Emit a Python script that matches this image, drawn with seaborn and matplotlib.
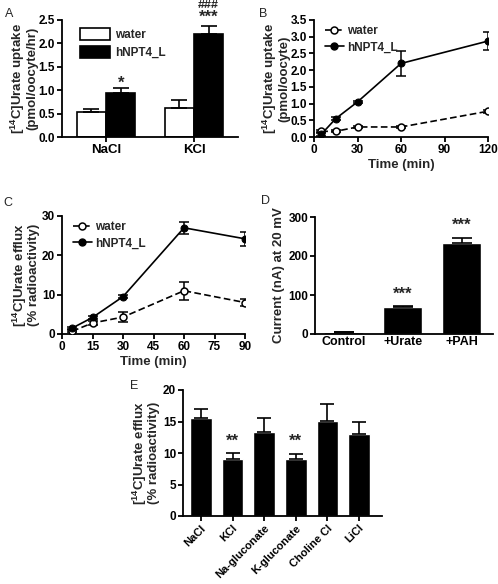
import numpy as np
import pandas as pd
import seaborn as sns
import matplotlib.pyplot as plt
from matplotlib.lines import Line2D
from matplotlib.patches import Patch

# panel A: urate uptake, NaCl vs KCl
a_salts = ["NaCl", "KCl"]
a_water = [0.54, 0.62]
a_water_err = [0.06, 0.17]
a_npt = [0.93, 2.20]
a_npt_err = [0.11, 0.17]

# panel B: uptake time course
b_time = [5, 15, 30, 60, 120]
b_water = [0.17, 0.17, 0.30, 0.30, 0.77]
b_water_err = [0.03, 0.03, 0.03, 0.03, 0.05]
b_npt = [0.08, 0.55, 1.05, 2.20, 2.87]
b_npt_err = [0.04, 0.04, 0.04, 0.37, 0.28]

# panel C: efflux time course
c_time = [5, 15, 30, 60, 90]
c_water = [0.7, 2.8, 4.3, 11.0, 8.0]
c_water_err = [0.3, 0.5, 1.2, 2.3, 0.9]
c_npt = [1.5, 4.2, 9.5, 27.0, 24.2]
c_npt_err = [0.3, 0.4, 0.3, 1.5, 1.7]

# panel D: current
d_cond = ["Control", "+Urate", "+PAH"]
d_vals = [5, 68, 233]
d_err = [1, 5, 12]

# panel E: efflux by medium
e_media = ["NaCl", "KCl", "Na-gluconate", "K-gluconate", "Choline Cl", "LiCl"]
e_vals = [15.6, 9.0, 13.3, 9.0, 15.1, 13.0]
e_err = [1.4, 1.0, 2.2, 0.8, 2.6, 1.85]

sns.set_style("ticks")
plt.rcParams['font.family'] = ['Liberation Sans', 'DejaVu Sans']
plt.rcParams['font.weight'] = 'bold'
plt.rcParams['axes.labelweight'] = 'bold'
plt.rcParams['mathtext.fontset'] = 'custom'
plt.rcParams['mathtext.rm'] = 'Liberation Sans:bold'
plt.rcParams['mathtext.bf'] = 'Liberation Sans:bold'
plt.rcParams['axes.linewidth'] = 1.3
plt.rcParams['xtick.major.width'] = 1.3
plt.rcParams['ytick.major.width'] = 1.3
plt.rcParams['xtick.major.size'] = 3.5
plt.rcParams['ytick.major.size'] = 3.5
plt.rcParams['xtick.labelsize'] = 8.5
plt.rcParams['ytick.labelsize'] = 8.5
plt.rcParams['axes.labelsize'] = 9.5

W, H = 498, 584
fig = plt.figure(figsize=(W / 100, H / 100), dpi=100)


def px_axes(x0, x1, ytop, ybot):
    return fig.add_axes([x0 / W, 1 - ybot / H, (x1 - x0) / W, (ybot - ytop) / H])


def tidy(ax):
    sns.despine(ax=ax)
    ax.spines['left'].set_color('black')
    ax.spines['bottom'].set_color('black')
    ax.tick_params(colors='black', pad=1.5)


uptake_lbl = "[$^{14}$C]Urate uptake\n"
efflux_lbl = "[$^{14}$C]Urate efflux\n(% radioactivity)"

# ---- A ----
ax = px_axes(62, 238, 20, 137)
dfa = pd.DataFrame({"salt": a_salts * 2,
                    "group": ["water"] * 2 + ["hNPT4_L"] * 2,
                    "val": a_water + a_npt})
sns.barplot(data=dfa, x="salt", y="val", hue="group", palette=["white", "black"],
            edgecolor="black", linewidth=1.2, width=0.67, errorbar=None, ax=ax, legend=False)
for cont, err in zip(ax.containers, [a_water_err, a_npt_err]):
    xs = [p.get_x() + p.get_width() / 2 for p in cont]
    ys = [p.get_height() for p in cont]
    ax.errorbar(xs, ys, yerr=[np.zeros(len(err)), err], fmt="none", ecolor="black",
                elinewidth=1.2, capsize=5.5, capthick=1.2)
npt_x = [p.get_x() + p.get_width() / 2 for p in ax.containers[1]]
ax.text(npt_x[0], 1.15, "*", ha="center", va="center", fontsize=12)
ax.text(npt_x[1], 2.56, "***", ha="center", va="center", fontsize=12, clip_on=False)
ax.text(npt_x[1], 2.83, "###", ha="center", va="center", fontsize=9, clip_on=False)
ax.set_xlim(-0.5, 1.5)
ax.set_ylim(0, 2.5)
ax.set_yticks(np.arange(0, 2.51, 0.5))
ax.yaxis.set_major_formatter(plt.FormatStrFormatter("%.1f"))
ax.set_xlabel("")
ax.set_ylabel(uptake_lbl + "(pmol/oocyte/hr)", labelpad=0, linespacing=0.9)
ax.tick_params(axis='x', length=3.5, labelsize=9.5)
ax.legend(handles=[Patch(facecolor="white", edgecolor="black", lw=1.2, label="water"),
                   Patch(facecolor="black", edgecolor="black", lw=1.2, label="hNPT4_L")],
          loc="upper left", bbox_to_anchor=(0.04, 1.02), frameon=False, fontsize=8.5,
          handlelength=2.6, handleheight=1.1, handletextpad=0.4, labelspacing=0.45)
tidy(ax)
fig.text(5 / W, 1 - 14 / H, "A", fontsize=9, fontweight="normal", va="center")


def timecourse(ax, t, w, we, n, ne):
    df = pd.DataFrame({"t": t * 2, "v": w + n,
                       "g": ["water"] * len(t) + ["hNPT4_L"] * len(t)})
    sns.lineplot(data=df, x="t", y="v", style="g", style_order=["water", "hNPT4_L"],
                 dashes={"water": (4, 2), "hNPT4_L": ""}, color="black", lw=1.2,
                 markers={"water": "o", "hNPT4_L": "o"}, markersize=5,
                 legend=False, ax=ax, errorbar=None, zorder=3)
    ax.lines[0].set_markerfacecolor("white")
    ax.lines[0].set_markeredgecolor("black")
    ax.lines[0].set_markeredgewidth(1.1)
    ax.lines[1].set_markerfacecolor("black")
    ax.lines[1].set_markeredgecolor("black")
    ax.errorbar(t, w, yerr=we, fmt="none", ecolor="black", elinewidth=1.1, capsize=3.5, capthick=1.1)
    ax.errorbar(t, n, yerr=ne, fmt="none", ecolor="black", elinewidth=1.1, capsize=3.5, capthick=1.1)
    hw = Line2D([], [], color="black", lw=1.2, ls=(0, (4, 2)), marker="o", ms=5,
                mfc="white", mec="black", mew=1.1, label="water")
    hn = Line2D([], [], color="black", lw=1.2, marker="o", ms=5, mfc="black",
                mec="black", label="hNPT4_L")
    ax.legend(handles=[hw, hn], loc="upper left", bbox_to_anchor=(0.0, 1.05), frameon=False,
              fontsize=8.5, handlelength=1.6, handletextpad=0.3, labelspacing=0.4)


# ---- B ----
ax = px_axes(314, 488, 20, 137)
timecourse(ax, b_time, b_water, b_water_err, b_npt, b_npt_err)
ax.set_xlim(0, 120)
ax.set_ylim(0, 3.5)
ax.set_xticks([0, 30, 60, 90, 120])
ax.set_yticks(np.arange(0, 3.51, 0.5))
ax.yaxis.set_major_formatter(plt.FormatStrFormatter("%.1f"))
ax.set_xlabel("Time (min)", labelpad=2)
ax.set_ylabel(uptake_lbl + "(pmol/oocyte)", labelpad=0, linespacing=0.9)
tidy(ax)
fig.text(259 / W, 1 - 14 / H, "B", fontsize=9, fontweight="normal", va="center")

# ---- C ----
ax = px_axes(62, 245, 216, 334)
timecourse(ax, c_time, c_water, c_water_err, c_npt, c_npt_err)
ax.set_xlim(0, 90)
ax.set_ylim(0, 30)
ax.set_xticks([0, 15, 30, 45, 60, 75, 90])
ax.set_yticks([0, 10, 20, 30])
ax.set_xlabel("Time (min)", labelpad=2)
ax.set_ylabel(efflux_lbl, labelpad=1, linespacing=0.9)
tidy(ax)
fig.text(3 / W, 1 - 203 / H, "C", fontsize=9, fontweight="normal", va="center")

# ---- D ----
ax = px_axes(315, 493, 217, 334)
sns.barplot(x=d_cond, y=d_vals, color="black", width=0.66, errorbar=None, ax=ax)
ax.errorbar(range(len(d_vals)), d_vals, yerr=[np.zeros(len(d_err)), d_err], fmt="none",
            ecolor="black", elinewidth=1.2, capsize=7, capthick=1.2)
ax.text(1, 102, "***", ha="center", va="center", fontsize=12)
ax.text(2, 278, "***", ha="center", va="center", fontsize=12)
ax.set_xlim(-0.49, 2.53)
ax.set_ylim(0, 300)
ax.set_yticks([0, 100, 200, 300])
ax.set_ylabel("Current (nA) at 20 mV", labelpad=2)
ax.tick_params(axis='x', length=0, labelsize=9)
tidy(ax)
fig.text(261 / W, 1 - 201 / H, "D", fontsize=9, fontweight="normal", va="center")

# ---- E ----
ax = px_axes(183, 382, 390, 516)
sns.barplot(x=e_media, y=e_vals, color="black", width=0.68, errorbar=None, ax=ax)
ax.errorbar(range(len(e_vals)), e_vals, yerr=[np.zeros(len(e_err)), e_err], fmt="none",
            ecolor="black", elinewidth=1.2, capsize=5, capthick=1.2)
for i in [1, 3]:
    ax.text(i, 11.9, "**", ha="center", va="center", fontsize=12)
ax.set_xlim(-0.57, 5.73)
ax.set_ylim(0, 20)
ax.set_yticks([0, 5, 10, 15, 20])
ax.set_ylabel(efflux_lbl, labelpad=2, linespacing=0.9)
ax.tick_params(axis='x', length=3.5, labelsize=8)
plt.setp(ax.get_xticklabels(), rotation=45, ha="right", rotation_mode="anchor")
tidy(ax)
fig.text(130 / W, 1 - 386 / H, "E", fontsize=9, fontweight="normal", va="center")

fig.savefig("out.png", dpi=100)
